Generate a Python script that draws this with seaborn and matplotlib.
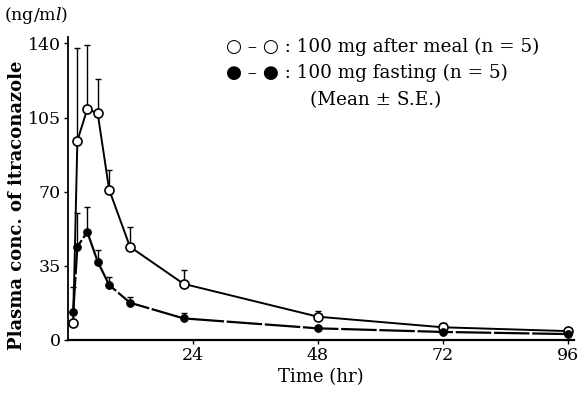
import numpy as np
import pandas as pd
import seaborn as sns
import matplotlib.pyplot as plt

# sampling times (hr)
time_hr = [1.0, 1.8, 3.7, 5.7, 7.9, 11.9, 22.2, 48, 72, 96]

# 100 mg after meal (open circles)
meal_mean = [8, 94, 109, 107, 71, 44, 26.5, 11, 6, 4.2]
meal_se = [6, 44, 30, 16, 9, 9.5, 6.5, 2.7, 1.9, 1.0]

# 100 mg fasting (filled circles)
fast_mean = [13, 44, 51, 37, 26, 17.6, 10.2, 5.5, 3.8, 2.8]
fast_se = [12, 16, 11.6, 5.5, 3.6, 2.8, 2.4, 1.0, 1.0, 0.8]

y_ticks = [0, 35, 70, 105, 140]
x_ticks = [24, 48, 72, 96]

df = pd.concat([
    pd.DataFrame({'Time': time_hr, 'Conc': meal_mean, 'SE': meal_se, 'Group': 'meal'}),
    pd.DataFrame({'Time': time_hr, 'Conc': fast_mean, 'SE': fast_se, 'Group': 'fasting'}),
])

sns.set_theme(style="ticks")
plt.rcParams['font.family'] = ['DejaVu Serif', 'DejaVu Sans']
plt.rcParams['mathtext.fontset'] = 'dejavuserif'
plt.rcParams['text.color'] = 'black'
plt.rcParams['axes.labelcolor'] = 'black'

fig = plt.figure(figsize=(5.83, 3.99), dpi=100)
ax = fig.add_axes([68 / 583, 1 - 340 / 399, 506 / 583, 303 / 399])

# upper-only error bars
for grp, sub in df.groupby('Group'):
    ax.errorbar(sub['Time'], sub['Conc'], yerr=[np.zeros(len(sub)), sub['SE']],
                fmt='none', ecolor='black', elinewidth=1.0, capsize=2.2, capthick=1.0, zorder=2)

sns.lineplot(data=df[df['Group'] == 'meal'], x='Time', y='Conc', ax=ax, color='black',
             linewidth=1.4, marker='o', markersize=6.5, markerfacecolor='white',
             markeredgecolor='black', markeredgewidth=1.2, zorder=3)
sns.lineplot(data=df[df['Group'] == 'fasting'], x='Time', y='Conc', ax=ax, color='black',
             linewidth=1.6, marker='o', markersize=5.5, markerfacecolor='black',
             markeredgecolor='black', dashes=(16, 1.2), zorder=3)

ax.set_xlim(0, 97.2)
ax.set_ylim(0, 143)
ax.set_xticks(x_ticks)
ax.set_yticks(y_ticks)
ax.tick_params(labelsize=12.5, length=3, width=1, direction='out', colors='black', pad=2)
sns.despine(ax=ax)
ax.spines['left'].set_linewidth(1.3)
ax.spines['bottom'].set_linewidth(1.6)
ax.spines['left'].set_color('black')
ax.spines['bottom'].set_color('black')

ax.set_xlabel('Time (hr)', fontsize=13, labelpad=3, color='black')
ax.set_ylabel('Plasma conc. of itraconazole', fontsize=13, fontweight='bold', color='black')
ax.yaxis.set_label_coords(-0.083, 0.446)

fig.text(4 / 583, 1 - 15 / 399, '(ng/m$\\mathit{l}$)', fontsize=12.5, va='center', ha='left',
         color='black')

fig.text(226 / 583, 1 - 47 / 399, '\u25cb \u2013 \u25cb : 100 mg after meal (n = 5)',
         fontsize=13.2, va='center', ha='left', color='black')
fig.text(226 / 583, 1 - 73 / 399, '\u25cf \u2013 \u25cf : 100 mg fasting (n = 5)',
         fontsize=13.2, va='center', ha='left', color='black')
fig.text(310 / 583, 1 - 100 / 399, '(Mean \u00b1 S.E.)', fontsize=13.2, va='center', ha='left',
         color='black')

fig.savefig('out.png', dpi=100)
